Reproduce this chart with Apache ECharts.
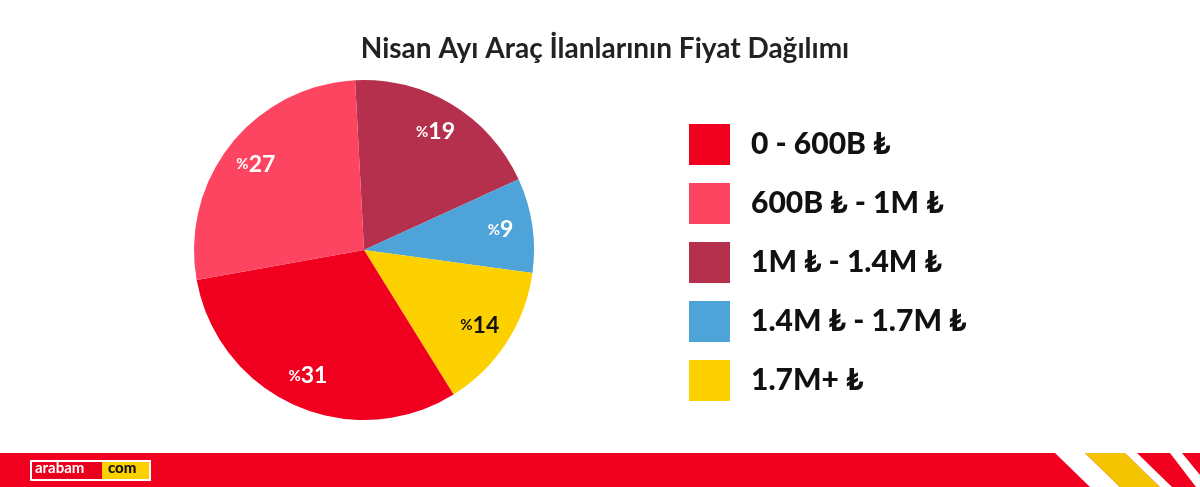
<!DOCTYPE html>
<html><head><meta charset="utf-8">
<script src="https://cdn.jsdelivr.net/npm/echarts@6/dist/echarts.min.js"></script>
<style>html,body{margin:0;padding:0;background:#fff}#c{width:1200px;height:487px}</style>
</head><body><div id="c"></div>
<script>
const categories = ['1M ₺ - 1.4M ₺','1.4M ₺ - 1.7M ₺','1.7M+ ₺','0 - 600B ₺','600B ₺ - 1M ₺'];
const values = [19, 9, 14, 31, 27];
const colors = ['#b5304c','#4ea3d8','#fdd000','#f0001e','#fd4461'];
const legendOrder = ['0 - 600B ₺','600B ₺ - 1M ₺','1M ₺ - 1.4M ₺','1.4M ₺ - 1.7M ₺','1.7M+ ₺'];
const chart = echarts.init(document.getElementById('c'));
const common = {type:'pie',center:[364,250],startAngle:93,clockwise:true,labelLine:{show:false},emphasis:{disabled:true},silent:true};
chart.setOption({
  animation:false,
  title:{text:'Nisan Ayı Araç İlanlarının Fiyat Dağılımı',left:600,textAlign:'center',top:30,
    textStyle:{fontFamily:'Lato',fontWeight:'bold',fontSize:28,color:'#222'}},
  legend:{data:legendOrder,orient:'vertical',left:684,top:119,itemWidth:41,itemHeight:41,itemGap:18,
    icon:'rect',selectedMode:false,
    textStyle:{fontFamily:'Lato',fontWeight:900,fontSize:30,color:'#111',padding:[0,0,0,16]}},
  series:[
    Object.assign({},common,{radius:[0,170],
      data:categories.map((n,i)=>({name:n,value:values[i],itemStyle:{color:colors[i]}})),
      label:{show:false}}),
    Object.assign({},common,{radius:[100,170],
      data:categories.map((n,i)=>({name:n,value:values[i],itemStyle:{color:'rgba(0,0,0,0)'},
        label:{color:i===2?'#111':'#fff'}})),
      label:{position:'inner',
        formatter:p=>'{a|%}{b|'+p.value+'}',
        rich:{a:{fontFamily:'Lato',fontWeight:'bold',fontSize:15},b:{fontFamily:'Lato',fontWeight:'bold',fontSize:23}}}})
  ],
  graphic:[
    {type:'rect',shape:{x:0,y:453,width:1200,height:34},style:{fill:'#f2001f'},silent:true},
    {type:'polygon',shape:{points:[[1055,453],[1085,453],[1120,487],[1090,487]]},style:{fill:'#fff'}},
    {type:'polygon',shape:{points:[[1085,453],[1125,453],[1160,487],[1120,487]]},style:{fill:'#f5c400'}},
    {type:'polygon',shape:{points:[[1125,453],[1137,453],[1172,487],[1160,487]]},style:{fill:'#fff'}},
    {type:'polygon',shape:{points:[[1170,453],[1182,453],[1200,475],[1200,487],[1196,487]]},style:{fill:'#fff'}},
    {type:'rect',shape:{x:30,y:460,width:121,height:21},style:{fill:'#fff'}},
    {type:'rect',shape:{x:32,y:462,width:70,height:17},style:{fill:'#e8001c'}},
    {type:'rect',shape:{x:102,y:462,width:47,height:17},style:{fill:'#fdd000'}},
    {type:'text',left:35,top:461,style:{text:'arabam',fill:'#fff',font:'bold 15px Lato'}},
    {type:'text',left:108,top:461,style:{text:'com',fill:'#111',font:'900 15px Lato'}}
  ]
});
</script></body></html>
